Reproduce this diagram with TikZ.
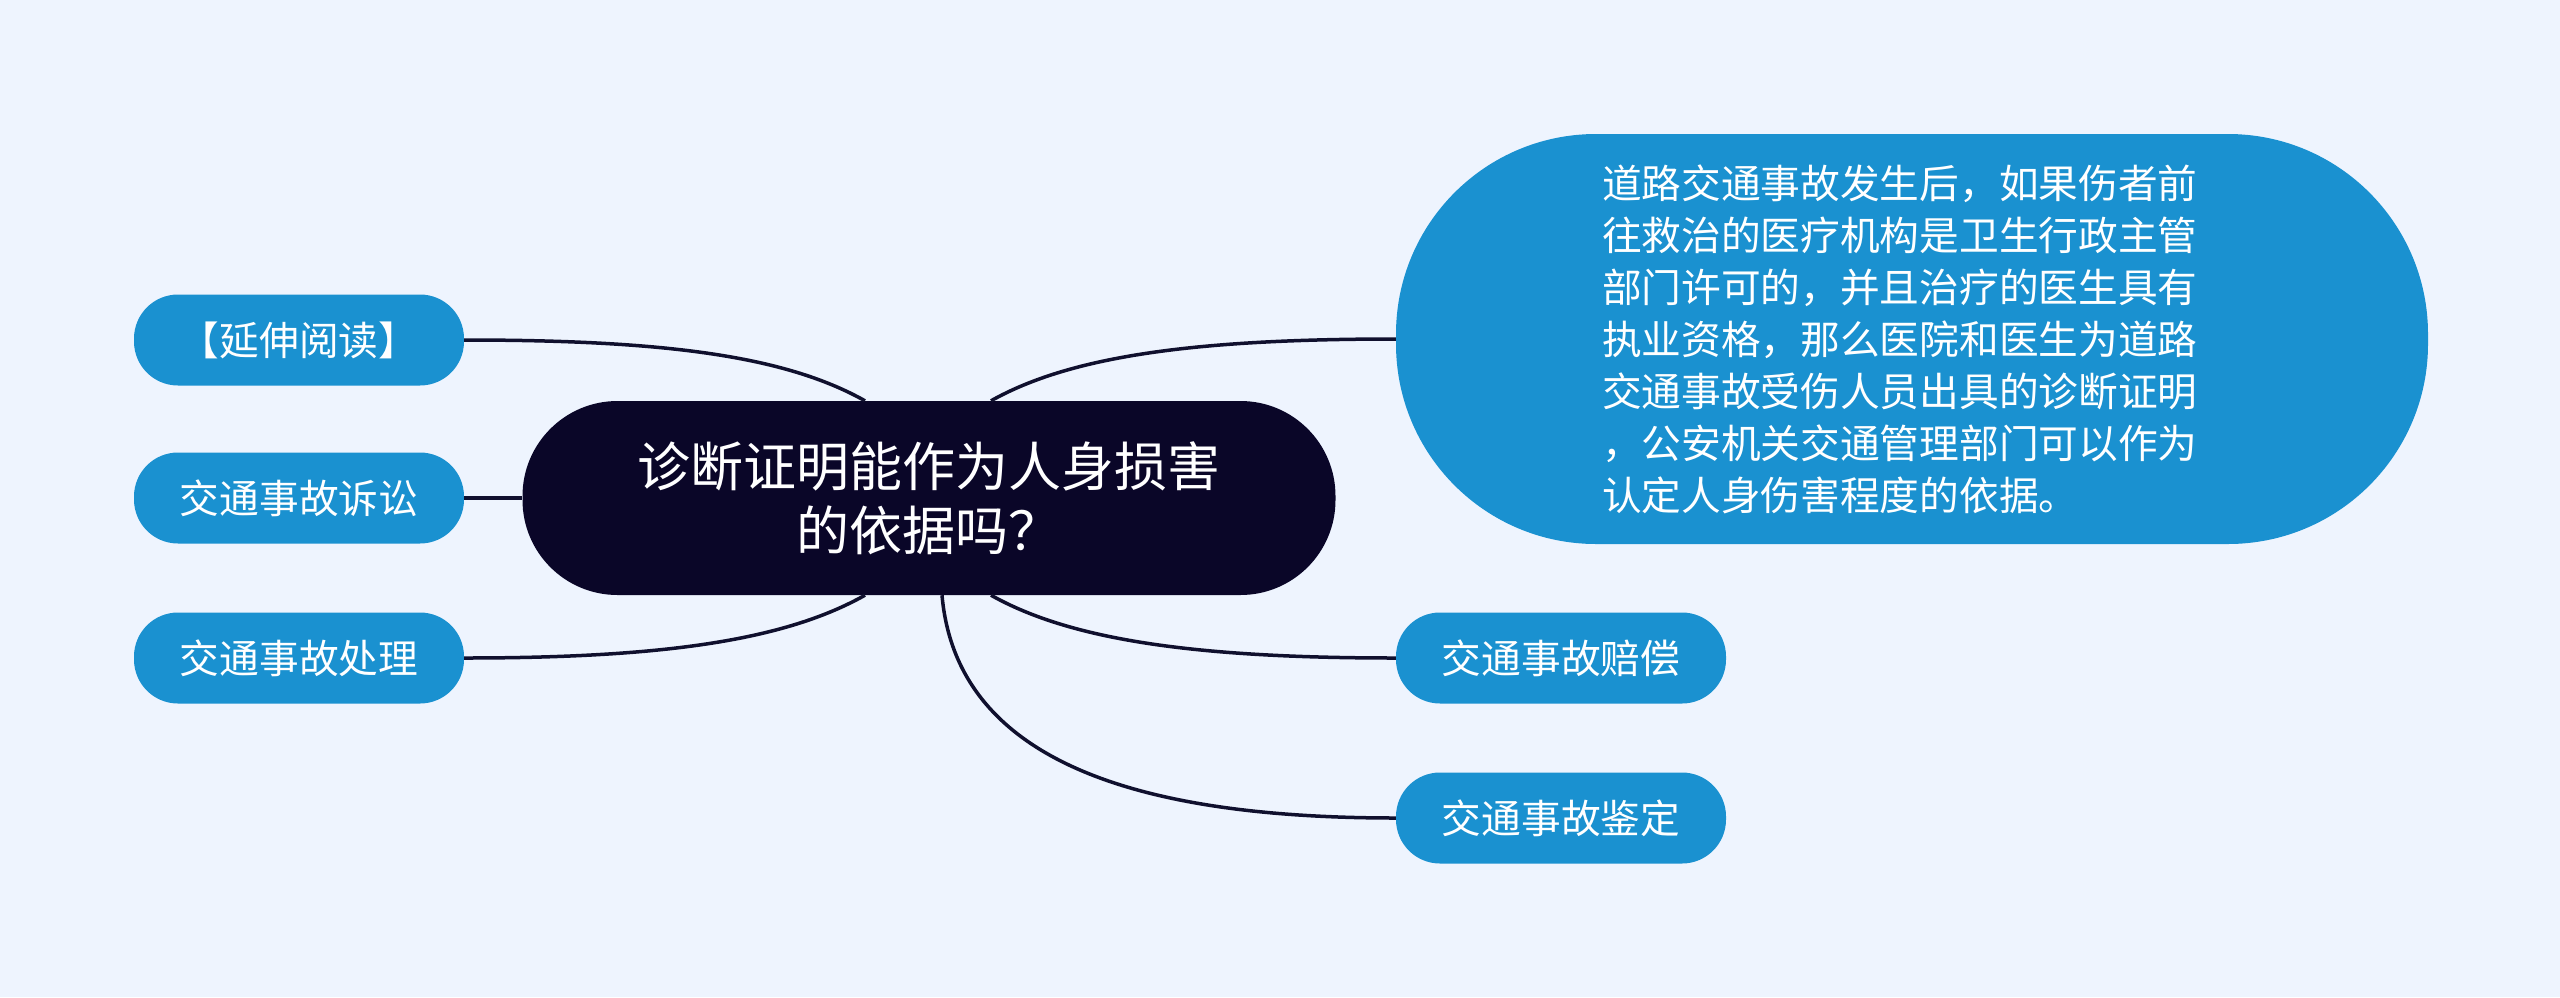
\documentclass[tikz,border=0pt]{standalone}
\usepackage{fontspec}
\setmainfont{Noto Sans CJK SC}
\definecolor{bgblue}{HTML}{EEF4FE}
\definecolor{topicblue}{HTML}{1A91D0}
\definecolor{rootnavy}{HTML}{0A0628}
\definecolor{linknavy}{HTML}{10102E}
\begin{document}
\begin{tikzpicture}[x=1pt, y=-1pt,
    root/.style={fill=rootnavy, text=white, rounded corners=95pt, minimum width=813pt,
        minimum height=194pt, align=center, font=\fontsize{53}{64}\selectfont},
    topic/.style={fill=topicblue, text=white, rounded corners=44pt, minimum width=330pt,
        minimum height=91pt, font=\fontsize{39.7}{48}\selectfont},
    link/.style={draw=linknavy, line width=3.5pt}]
    % 1. Nền
    \fill[bgblue] (0,0) rectangle (2560,997);
    \useasboundingbox (0,0) rectangle (2560,997);

    % 2. Các nút
    \node[root] (root) at (929,498) {诊断证明能作为人身损害\\的依据吗？};
    \node[topic] (read) at (299,340) {【延伸阅读】};
    \node[topic] (lawsuit) at (299,498) {交通事故诉讼};
    \node[topic] (deal) at (299,658) {交通事故处理};
    \node[topic] (pay) at (1561,658) {交通事故赔偿};
    \node[topic] (assess) at (1561,818) {交通事故鉴定};
    \node[topic, rounded corners=200pt, minimum width=1032pt, minimum height=410pt,
        text width=620pt, align=left, font=\fontsize{39.7}{52}\selectfont]
        (detail) at (1912,339) {道路交通事故发生后，如果伤者前\\往救治的医疗机构是卫生行政主管\\部门许可的，并且治疗的医生具有\\执业资格，那么医院和医生为道路\\交通事故受伤人员出具的诊断证明\\，公安机关交通管理部门可以作为\\认定人身伤害程度的依据。};

    % 3. Các đường nối
    \draw[link] ([xshift=-64pt]root.north) .. controls +(-80,-45) and +(200,0) .. (read.east);
    \draw[link] (lawsuit.east) -- (root.west);
    \draw[link] ([xshift=-64pt]root.south) .. controls +(-80,45) and +(200,0) .. (deal.east);
    \draw[link] ([xshift=62pt]root.north) .. controls +(80,-45) and +(-200,0) .. (detail.west);
    \draw[link] ([xshift=62pt]root.south) .. controls +(80,45) and +(-200,0) .. (pay.west);
    \draw[link] ([xshift=13pt]root.south) .. controls +(15,170) and +(-250,0) .. (assess.west);
\end{tikzpicture}
\end{document}
